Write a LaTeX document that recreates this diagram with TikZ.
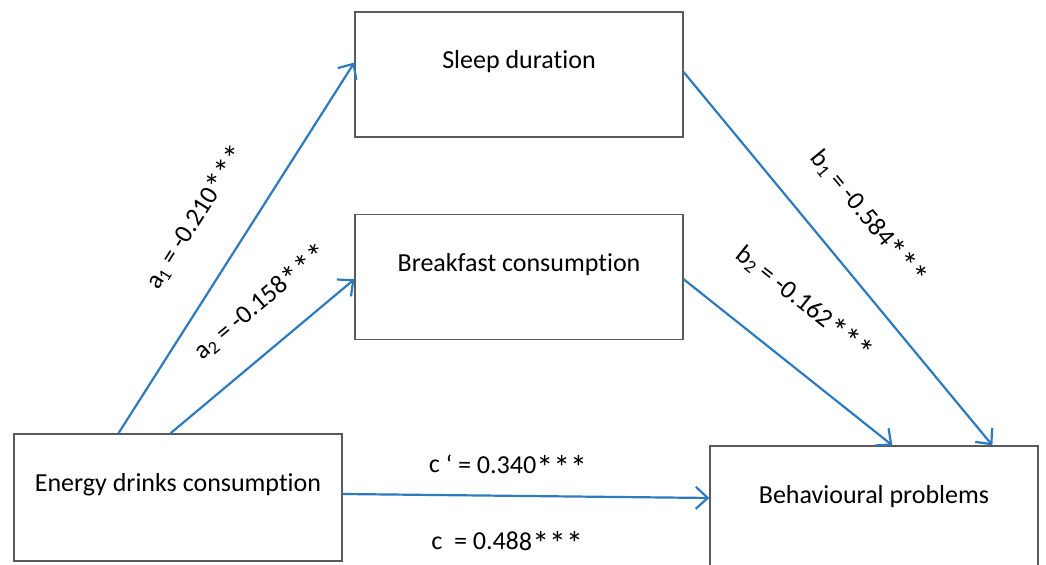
\documentclass[tikz,border=0pt]{standalone}
\usepackage{fontspec}
\setmainfont{Carlito}[Ligatures=NoCommon]
\usepackage{tikz}
\usetikzlibrary{arrows.meta,positioning}
\definecolor{pathblue}{RGB}{46,122,190}
\definecolor{boxgray}{RGB}{90,90,90}
\newcommand{\sig}{\raisebox{-2.5pt}{\fontsize{17}{17}\selectfont***}}
\tikzset{%
  font=\fontsize{13}{15}\selectfont,>={Straight Barb[length=6pt,width=11pt]},
  block/.style = {rectangle, draw=boxgray, line width=0.6pt, minimum width=164pt,
    minimum height=62.5pt, text height=10pt, text depth=15.5pt, align=center},
  line/.style  = {draw=pathblue, line width=1.1pt, ->}
}

\begin{document}
\begin{tikzpicture}[x=0.5pt,y=-0.5pt,%
	coef/.style={sloped,inner sep=0pt,text height=9pt,text depth=3pt}]
	\useasboundingbox (0,0) rectangle (1046,565);
	\node[block] (sleep) at (519,74.5) {Sleep duration};
	\node[block,below=38pt of sleep] (breakfast) {Breakfast consumption};
	\node[block,minimum height=63.5pt] (energy) at (178,497.5) {Energy drinks consumption};
	\node[block,minimum height=63.5pt] (behaviour) at (874,509.5) {Behavioural problems};
	% a paths
	\draw[line] ([xshift=52.5pt]energy.north west) -- ([yshift=6pt]sleep.west)
		node[coef,pos=.51,above=18pt] {a\textsubscript{1} = -0.210\sig};
	\draw[line] ([xshift=78.5pt]energy.north west) -- ([yshift=-1.25pt]breakfast.west)
		node[coef,pos=.64,above=14pt] {a\textsubscript{2} = -0.158\sig};
	% b paths
	\draw[line] ([yshift=1.25pt]sleep.east) -- ([xshift=141.5pt]behaviour.north west)
		node[coef,pos=.475,above=17.5pt] {b\textsubscript{1} = -0.584\sig};
	\draw[line] ([yshift=-1.25pt]breakfast.east) -- ([xshift=91.5pt]behaviour.north west)
		node[coef,pos=.41,above=21pt] {b\textsubscript{2} = -0.162\sig};
	% c path
	\draw[line] ([yshift=1.75pt]energy.east) -- ([yshift=5.75pt]behaviour.west)
		node[coef,pos=.45,above=7.5pt] {c ‘ = 0.340\sig}
		node[coef,pos=.45,below=17.5pt] {c\ \ = 0.488\sig};
\end{tikzpicture}
\end{document}
